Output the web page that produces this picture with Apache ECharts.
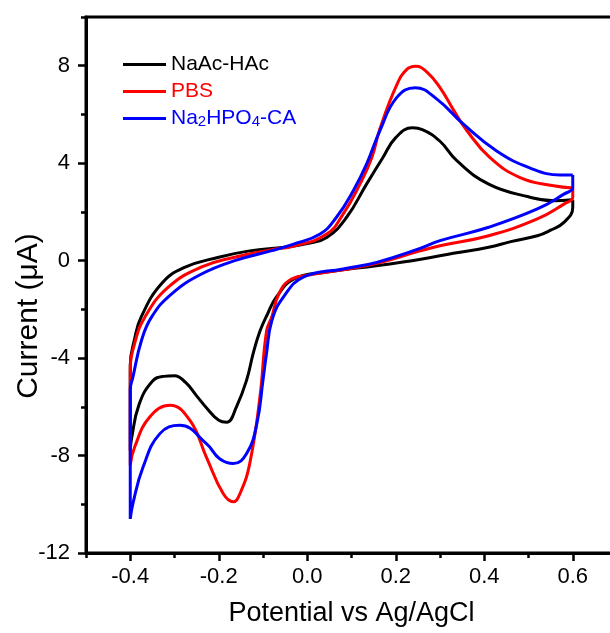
<!DOCTYPE html>
<html lang="en">
<head>
    <meta charset="UTF-8">
    <title>CV curves</title>
    <script src="https://cdn.jsdelivr.net/npm/echarts@6/dist/echarts.min.js"></script>
</head>
<body style="margin:0">
<div id="main" style="width: 610px; height: 633px"></div>
<script>
    var naacHac = [
        [0.6, 2.5], [0.6, 2.18], [0.58, 1.57], [0.55, 1.25], [0.52, 1.02], [0.46, 0.78], [0.41, 0.55],
        [0.33, 0.3], [0.26, 0.07], [0.16, -0.2], [0.04, -0.48], [-0.03, -0.75], [-0.07, -1.5],
        [-0.09, -2.2], [-0.107, -2.9], [-0.122, -3.8], [-0.137, -4.9], [-0.16, -6.0], [-0.182, -6.63],
        [-0.2, -6.55], [-0.225, -6.1], [-0.25, -5.55], [-0.275, -5.0], [-0.3, -4.72], [-0.325, -4.75],
        [-0.35, -4.95], [-0.38, -5.9], [-0.397, -7.3], [-0.4, -7.8],
        [-0.4, -4.3], [-0.39, -3.2], [-0.375, -2.3], [-0.33, -0.96], [-0.28, -0.3], [-0.2, 0.14],
        [-0.13, 0.4], [-0.05, 0.55], [0.0, 0.7], [0.044, 0.95], [0.089, 1.78], [0.134, 3.14],
        [0.17, 4.2], [0.2, 5.05], [0.238, 5.45], [0.26, 5.38], [0.3, 4.9], [0.338, 4.1], [0.41, 3.14],
        [0.5, 2.62], [0.557, 2.46], [0.6, 2.5]
    ];
    var pbs = [
        [0.6, 2.98], [0.6, 2.6], [0.58, 2.32], [0.52, 1.71], [0.41, 1.02], [0.3, 0.61], [0.255, 0.4],
        [0.16, -0.1], [0.08, -0.38], [0.0, -0.6], [-0.04, -0.8], [-0.065, -1.4], [-0.08, -2.3],
        [-0.092, -2.9], [-0.107, -5.6], [-0.13, -8.33], [-0.152, -9.56], [-0.167, -9.9],
        [-0.19, -9.56], [-0.228, -8.06], [-0.265, -6.56], [-0.31, -5.94], [-0.356, -6.42],
        [-0.39, -7.65], [-0.4, -8.4],
        [-0.4, -4.5], [-0.39, -3.4], [-0.367, -2.32], [-0.314, -1.09], [-0.24, -0.27], [-0.164, 0.14],
        [-0.08, 0.45], [-0.03, 0.6], [0.044, 1.09], [0.081, 1.91], [0.119, 3.14], [0.146, 4.23],
        [0.164, 5.4], [0.202, 7.2], [0.225, 7.85], [0.245, 7.98], [0.27, 7.75], [0.3, 7.1],
        [0.33, 6.2], [0.361, 5.33], [0.413, 4.23], [0.481, 3.41], [0.557, 3.07], [0.6, 2.98]
    ];
    var na2hpo4Ca = [
        [0.6, 3.52], [0.6, 3.0], [0.58, 2.73], [0.52, 2.12], [0.41, 1.37], [0.3, 0.82], [0.255, 0.5],
        [0.157, -0.07], [0.081, -0.34], [-0.009, -0.68], [-0.054, -1.5], [-0.08, -2.46],
        [-0.092, -3.8], [-0.1, -4.9], [-0.114, -6.7], [-0.137, -7.92], [-0.167, -8.33],
        [-0.198, -8.13], [-0.228, -7.51], [-0.288, -6.76], [-0.333, -7.1], [-0.371, -8.47],
        [-0.394, -9.97], [-0.4, -10.6],
        [-0.4, -5.3], [-0.394, -4.78], [-0.375, -3.3], [-0.352, -2.32], [-0.307, -1.37],
        [-0.239, -0.55], [-0.164, 0.0], [-0.08, 0.41], [-0.031, 0.68], [0.029, 1.09], [0.066, 1.78],
        [0.104, 2.87], [0.134, 3.96], [0.164, 5.33], [0.202, 6.69], [0.244, 7.1], [0.293, 6.63],
        [0.353, 5.6], [0.428, 4.5], [0.504, 3.8], [0.572, 3.52], [0.6, 3.52]
    ];

    var seriesNames = ['NaAc-HAc', 'PBS', 'Na2HPO4-CA'];
    var seriesColors = ['#000000', '#ff0000', '#0000ff'];
    var xMajorTicks = [-0.4, -0.2, 0.0, 0.2, 0.4, 0.6];
    var xMinorTicks = [-0.5, -0.3, -0.1, 0.1, 0.3, 0.5, 0.7];
    var yMajorTicks = [-12, -8, -4, 0, 4, 8];
    var yMinorTicks = [-10, -6, -2, 2, 6, 10];

    var font = 'Liberation Sans, Arial, sans-serif';
    var myChart = echarts.init(document.getElementById('main'));

    function baseX(extra) {
        return Object.assign({
            type: 'value', min: -0.5, max: 0.7, interval: 0.1,
            position: 'bottom',
            splitLine: {show: false}
        }, extra);
    }
    function baseY(extra) {
        return Object.assign({
            type: 'value', min: -12, max: 10, interval: 2,
            position: 'left',
            splitLine: {show: false}
        }, extra);
    }

    var legendText = {fontFamily: font, fontSize: 21, lineHeight: 22};
    var option = {
        animation: false,
        backgroundColor: '#fff',
        grid: {
            left: 86, top: 17, width: 531, height: 536,
            outerBoundsMode: 'none',
            show: true, borderColor: '#000', borderWidth: 3
        },
        legend: {
            orient: 'vertical',
            left: 118, top: 49,
            itemWidth: 43, itemHeight: 3, itemGap: 6,
            icon: 'rect',
            data: seriesNames,
            formatter: function (name) {
                if (name === 'NaAc-HAc') return '{k|NaAc-HAc}';
                if (name === 'PBS') return '{r|PBS}';
                return '{b|Na}{bs|2}{b|HPO}{bs|4}{b|-CA}';
            },
            textStyle: {
                fontFamily: font, fontSize: 21,
                rich: {
                    k: Object.assign({color: '#000'}, legendText),
                    r: Object.assign({color: '#ff0000'}, legendText),
                    b: Object.assign({color: '#0000ff'}, legendText),
                    bs: {color: '#0000ff', fontFamily: font, fontSize: 15, lineHeight: 22,
                        verticalAlign: 'bottom', padding: [4, 0, 0, 0]}
                }
            }
        },
        xAxis: [
            baseX({
                name: 'Potential vs Ag/AgCl',
                nameLocation: 'middle', nameGap: 47, nameMoveOverlap: false,
                nameTextStyle: {fontFamily: font, fontSize: 27, color: '#000'},
                axisLine: {onZero: false, lineStyle: {color: '#000', width: 3}},
                axisTick: {customValues: xMajorTicks, length: 8, lineStyle: {width: 2.5, color: '#000'}},
                axisLabel: {customValues: xMajorTicks, margin: 13, fontFamily: font, fontSize: 22, color: '#000',
                    formatter: function (v) { return v.toFixed(1); }}
            }),
            baseX({
                axisLine: {show: false, onZero: false},
                axisTick: {customValues: xMinorTicks, length: 5, lineStyle: {width: 2.5, color: '#000'}},
                axisLabel: {show: false}
            })
        ],
        yAxis: [
            baseY({
                name: 'Current (\u03bcA)',
                nameLocation: 'middle', nameGap: 42, nameMoveOverlap: false,
                nameTextStyle: {fontFamily: font, fontSize: 30, color: '#000', padding: [0, 62, 0, 0]},
                axisLine: {onZero: false, lineStyle: {color: '#000', width: 3}},
                axisTick: {customValues: yMajorTicks, length: 8, lineStyle: {width: 2.5, color: '#000'}},
                axisLabel: {customValues: yMajorTicks, margin: 16, fontFamily: font, fontSize: 22, color: '#000'}
            }),
            baseY({
                axisLine: {show: false, onZero: false},
                axisTick: {customValues: yMinorTicks, length: 5, lineStyle: {width: 2.5, color: '#000'}},
                axisLabel: {show: false}
            })
        ],
        series: [naacHac, pbs, na2hpo4Ca].map(function (loop, i) {
            return {
                name: seriesNames[i],
                type: 'line',
                data: loop,
                smooth: 0.45,
                symbol: 'none',
                color: seriesColors[i],
                lineStyle: {width: 3, color: seriesColors[i]}
            };
        })
    };
    myChart.setOption(option);
</script>
</body>
</html>
